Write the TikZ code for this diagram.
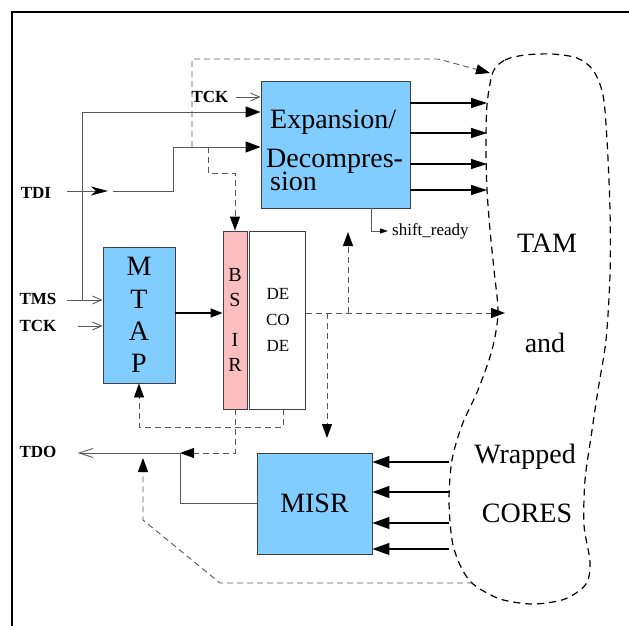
\documentclass[tikz,border=0pt]{standalone}
\usepackage{fontspec}
\setmainfont{Liberation Serif}
\usetikzlibrary{arrows.meta}
\usetikzlibrary{positioning}

\definecolor{ltblue}{RGB}{130,205,255}
\definecolor{ltpink}{RGB}{250,190,190}

\newcommand{\blockfont}{\fontsize{28}{32.3}\selectfont}
\newcommand{\pinfont}{\fontsize{17}{20}\selectfont\bfseries}
\newcommand{\decfont}{\fontsize{17}{26}\selectfont}
\newcommand{\bsirfont}{\fontsize{20}{25}\selectfont}

\tikzset{
  block/.style={draw=black!75, line width=0.9pt, inner sep=0pt, font=\blockfont, align=center},
  blue block/.style={block, fill=ltblue},
  pink block/.style={block, fill=ltpink},
  pin/.style={font=\pinfont, inner sep=1pt},
  wire/.style={draw=black!65, line width=0.9pt},
  bus/.style={draw=black, line width=1.4pt, -{Triangle[length=16pt,width=10pt]}},
  feed tip/.style={-{Triangle[length=15pt,width=11pt,color=black]}},
  ctl/.style={draw=black!65, line width=0.9pt, dash pattern=on 6pt off 4pt},
  ctl tip/.style={-{Triangle[length=14pt,width=10pt,color=black]}},
  clk/.style={wire, -{Straight Barb[length=9pt,width=8pt]}},
}

\begin{document}
\begin{tikzpicture}[x=1pt,y=-1pt]
  \useasboundingbox (0,0) rectangle (629,626);
  \draw[line width=1.3pt] (12,626) -- (12,12) -- (629,12);

  % blocks
  \node[blue block, minimum width=149pt, minimum height=127pt] (exp) at (335.5,144.5) {};
  \node[font=\blockfont, align=left, anchor=north west, inner sep=0pt] (explbl) at (266,110)
    {\hspace{4pt}Expansion/\\[6.7pt]Decompres-\\[-10pt]\hspace{4pt}sion};
  \node[blue block, minimum width=72pt, minimum height=136pt] (mtap) at (139,315) {M\\T\\A\\P};
  \node[pink block, minimum width=24pt, minimum height=178pt, font=\bsirfont] (bsir) at (235,320) {B\\S\\[15pt]I\\R};
  \node[block, minimum width=56pt, minimum height=178pt, font=\decfont, right=2pt of bsir] (dec) {DE\\CO\\DE};
  \node[blue block, minimum width=115pt, minimum height=101pt] (misr) at (314.5,503.5) {MISR};

  % pins
  \node[pin] (tcktop) at (210,97) {TCK};
  \node[pin] (tdi) at (36,193) {TDI};
  \node[pin] (tms) at (38,299) {TMS};
  \node[pin] (tck) at (38,326) {TCK};
  \node[pin] (tdo) at (38,452) {TDO};
  \node[font=\fontsize{17}{20}\selectfont, anchor=west, inner sep=0pt] (rdy) at (392,231) {shift\_ready};

  % TAM and cores
  \draw[line width=1.2pt, dash pattern=on 7pt off 5pt] plot[smooth cycle] coordinates {
    (493,72) (505,60) (525,55) (552,54) (577,58) (593,70) (603,95) (607,140) (610,210)
    (610,275) (606,340) (598,390) (591,437) (585,480) (584,525) (590,562) (586,584)
    (565,599) (533,604) (500,599) (473,584) (460,565) (452,540) (449,500) (452,460)
    (462,425) (478,390) (492,350) (498,313) (494,270) (490,230) (487,190) (486,150) (487,105)};
  \node[font=\blockfont] (tam) at (547,243) {TAM};
  \node[font=\blockfont] (and) at (545,343) {and};
  \node[font=\blockfont] (wrap) at (525,457) {Wrapped};
  \node[font=\blockfont] (cores) at (527,513) {CORES};

  \coordinate (o1) at (487,103);
  \coordinate (o2) at (487,133);
  \coordinate (o3) at (487,164);
  \coordinate (o4) at (487,190);
  \draw[bus] (exp.east |- o1) -- (o1);
  \draw[bus] (exp.east |- o2) -- (o2);
  \draw[bus] (exp.east |- o3) -- (o3);
  \draw[bus] (exp.east |- o4) -- (o4);

  \coordinate (i1) at (449,462);
  \coordinate (i2) at (449,492);
  \coordinate (i3) at (449,523);
  \coordinate (i4) at (449,549);
  \draw[bus, -{Triangle[length=17pt,width=12pt]}] (i1) -- (misr.east |- i1);
  \draw[bus, -{Triangle[length=17pt,width=12pt]}] (i2) -- (misr.east |- i2);
  \draw[bus, -{Triangle[length=17pt,width=12pt]}] (i3) -- (misr.east |- i3);
  \draw[bus, -{Triangle[length=17pt,width=12pt]}] (i4) -- (misr.east |- i4);

  % test port
  \coordinate (tmsbr) at (82,300);
  \coordinate (tdiend) at (108,191);
  \coordinate (tdigo) at (113,191);
  \coordinate (tdijog) at (173,147);
  \draw[clk, shorten <=6pt] (tcktop.east) -- (tcktop.east -| exp.west);
  \draw[clk, shorten <=9pt] (tms.east |- tmsbr) -- (tmsbr -| mtap.west);
  \draw[clk, shorten <=20pt] (tck.east) -- (tck.east -| mtap.west);
  \draw[wire, feed tip] (tmsbr) |- (exp.west |- 0,112);
  \draw[wire, -{Stealth[length=17pt,width=9pt,inset=5pt,color=black]}, shorten <=15pt] (tdiend -| tdi.east) -- (tdiend);
  \draw[wire, feed tip] (tdigo) -| (tdijog) -- (tdijog -| exp.west);
  \draw[bus, -{Triangle[length=12pt,width=9pt]}] (mtap.east |- 0,313) -- (bsir.west |- 0,313);
  \draw[wire, -{Triangle[length=8pt,width=5pt,color=black]}, shorten >=4pt] (exp.south -| 371,0) |- (rdy.west);

  % control paths
  \coordinate (scan1) at (192,147);
  \coordinate (scan2) at (208,147);
  \coordinate (topbend) at (438,59);
  \coordinate (tamtop) at (490,73);
  \coordinate (tamin) at (505,313);
  \coordinate (rdyup) at (348,232);
  \coordinate (misrin) at (327,438);
  \coordinate (tdojn) at (180,453);
  \coordinate (tdoup) at (143,458);
  \coordinate (cbot) at (473,583);
  \coordinate (ckink) at (220,583);
  \draw[ctl, ctl tip] (scan1) |- (topbend) -- (tamtop);
  \draw[ctl, ctl tip] (scan2) -- ++(0,26) -| (bsir.north);
  \draw[ctl, ctl tip] (dec.east |- tamin) -- (tamin);
  \draw[ctl, ctl tip] (rdyup |- tamin) -- (rdyup);
  \draw[ctl, ctl tip] (misrin |- tamin) -- (misrin);
  \draw[ctl, ctl tip] (dec.south -| 283,0) -- ++(0,18) -| (mtap.south);
  \draw[ctl, ctl tip] (bsir.south) |- (tdojn);
  \draw[ctl, ctl tip] (cbot) -- (ckink) -- (tdoup |- 0,520) -- (tdoup);

  % test out
  \draw[wire] (misr.west) -| (tdojn);
  \draw[wire, -{Straight Barb[length=14pt,width=9pt]}, shorten >=20pt] (tdojn) -- (tdo.east |- tdojn);
\end{tikzpicture}
\end{document}
